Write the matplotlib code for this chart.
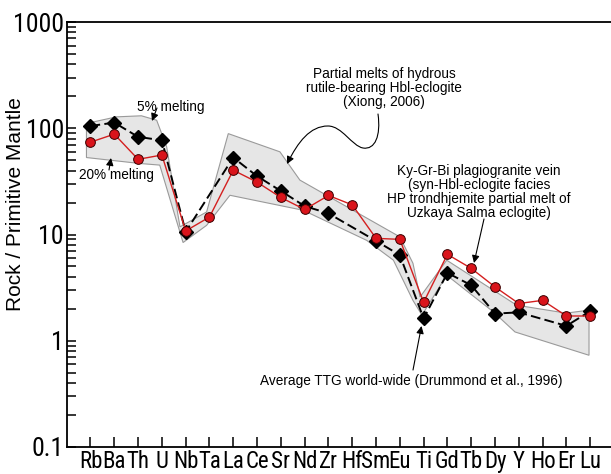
import numpy as np
import matplotlib
matplotlib.use("Agg")
import matplotlib.pyplot as plt
from matplotlib.path import Path
from matplotlib.patches import FancyArrowPatch, Polygon

# Trace elements (primitive-mantle normalised)
elements = ['Rb', 'Ba', 'Th', 'U', 'Nb', 'Ta', 'La', 'Ce', 'Sr', 'Nd', 'Zr',
            'Hf', 'Sm', 'Eu', 'Ti', 'Gd', 'Tb', 'Dy', 'Y', 'Ho', 'Er', 'Lu']

# Average TTG world-wide (Drummond et al., 1996); NaN = not reported
ttg_avg = [105, 113, 83, 77, 10.6, np.nan, 53, 35.4, 25.7, 18.5, 15.8,
           np.nan, 8.7, 6.4, 1.62, 4.35, 3.33, 1.80, 1.85, np.nan, 1.38, 1.9]

# Ky-Gr-Bi plagiogranite vein (Uzkaya Salma)
plagiogranite = [74, 88, 51, 56, 10.8, 14.6, 40.3, 31.1, 22.3, 17.2, 23.3,
                 19.0, 9.2, 9.0, 2.3, 6.5, 4.8, 3.21, 2.24, 2.4, 1.71, 1.71]

# Envelope of partial melts of hydrous rutile-bearing Hbl-eclogite (Xiong, 2006)
xiong_upper_pos = [-0.17, 1.09, 2.14, 2.78, 3.2, 3.76, 4.88, 5.79, 7.96, 8.8,
                   13.0, 13.55, 13.85, 14.97, 17.91, 19.99, 20.95]
xiong_upper_val = [111, 128, 131, 119, 67, 11.8, 16.3, 89, 60, 32.5,
                   9.5, 5.37, 2.58, 5.73, 2.16, 1.82, 1.94]
xiong_lower_pos = [-0.17, 2.07, 2.91, 3.89, 4.88, 5.86, 8.94, 11.61, 12.73,
                   13.55, 13.93, 14.97, 16.93, 17.84, 20.95]
xiong_lower_val = [53, 46.6, 45, 8.4, 12.2, 23.4, 16.9, 8.8, 5.73,
                   2.4, 1.74, 4.14, 1.87, 1.21, 0.73]

W, H = 611, 474
fig = plt.figure(figsize=(W / 100, H / 100), dpi=100)


def fp(x, y):
    """Pixel position (from top-left) to figure fraction."""
    return (x / W, 1 - y / H)


ax = fig.add_axes([66.7 / W, (H - 447) / H, (614 - 66.7) / W, (447 - 22) / H])

narrow = ['Liberation Sans Narrow', 'Arial Narrow', 'Roboto Condensed',
          'PT Sans Narrow', 'Archivo Narrow', 'Liberation Sans', 'DejaVu Sans']
regular = ['Liberation Sans', 'Arimo', 'DejaVu Sans']

# Xiong envelope polygon
poly_x = list(xiong_upper_pos) + list(xiong_lower_pos[::-1])
poly_y = list(xiong_upper_val) + list(xiong_lower_val[::-1])
ax.add_patch(Polygon(np.column_stack([poly_x, poly_y]), closed=True,
                     facecolor='#e6e6e6', edgecolor='#9a9a9a', lw=0.8, zorder=1))

idx = np.arange(len(elements))
ttg = np.array(ttg_avg, dtype=float)
ok = ~np.isnan(ttg)
ax.plot(idx[ok], ttg[ok], color='black', lw=1.4, dashes=(5, 2.2),
        marker='D', markersize=7.5, markerfacecolor='black',
        markeredgecolor='black', zorder=3)
ax.plot(idx, plagiogranite, color='#d41f1f', lw=1.0, marker='o',
        markersize=7, markerfacecolor='#d9141b', markeredgecolor='#3a0000',
        markeredgewidth=0.7, zorder=4)

ax.set_yscale('log')
ax.set_ylim(0.1, 1000)
ax.set_xlim(-1, 22)
ax.set_xticks(idx)
ax.set_xticklabels(elements, family=narrow, fontsize=16.5)
ax.set_yticks([0.1, 1, 10, 100, 1000])
ax.set_yticklabels(['0.1', '1', '10', '100', '1000'], family=narrow, fontsize=18.5)
ax.yaxis.set_minor_locator(matplotlib.ticker.LogLocator(base=10, subs=np.arange(2, 10)))
ax.yaxis.set_minor_formatter(matplotlib.ticker.NullFormatter())
ax.tick_params(axis='y', which='both', direction='in', length=6.5, width=1.1,
               pad=2)
ax.tick_params(axis='x', which='both', direction='in', length=7, width=1.1,
               pad=2.5)
for s in ax.spines.values():
    s.set_linewidth(1.3)

fig.text(*fp(16, 204), 'Rock / Primitive Mantle', family=regular, fontsize=15,
         rotation=90, ha='center', va='center')

ann_kw = dict(family=regular, fontsize=9.8, ha='center', va='center',
              transform=fig.transFigure, linespacing=1.0)
arrow_kw = dict(arrowstyle='-|>', mutation_scale=11, color='black', lw=0.8,
                transform=fig.transFigure, shrinkA=0, shrinkB=0)

fig.text(*fp(171, 107), '5% melting', **ann_kw)
fig.add_artist(FancyArrowPatch(fp(157, 108), fp(152, 121), **arrow_kw))

fig.text(*fp(116, 175), '20% melting', **ann_kw)
fig.add_artist(FancyArrowPatch(fp(109, 170), fp(111, 158), **arrow_kw))

fig.text(*fp(384, 88), 'Partial melts of hydrous\nrutile-bearing Hbl-eclogite\n(Xiong, 2006)',
         **ann_kw)
curve = Path([fp(378, 114), fp(381, 136), fp(375, 150), fp(363, 148),
              fp(352, 146), fp(342, 126), fp(328, 126),
              fp(310, 126), fp(298, 142), fp(287, 164)],
             [Path.MOVETO, Path.CURVE4, Path.CURVE4, Path.CURVE4,
              Path.CURVE4, Path.CURVE4, Path.CURVE4,
              Path.CURVE4, Path.CURVE4, Path.CURVE4])
fig.add_artist(FancyArrowPatch(path=curve, **arrow_kw))

fig.text(*fp(479, 192), 'Ky-Gr-Bi plagiogranite vein\n(syn-Hbl-eclogite facies\n'
         'HP trondhjemite partial melt of\nUzkaya Salma eclogite)', **ann_kw)
fig.add_artist(FancyArrowPatch(fp(484, 219), fp(474, 263), **arrow_kw))

fig.text(*fp(411, 381), 'Average TTG world-wide (Drummond et al., 1996)', **ann_kw)
fig.add_artist(FancyArrowPatch(fp(413, 370), fp(421.5, 326), **arrow_kw))

fig.savefig('out.png', dpi=100)
